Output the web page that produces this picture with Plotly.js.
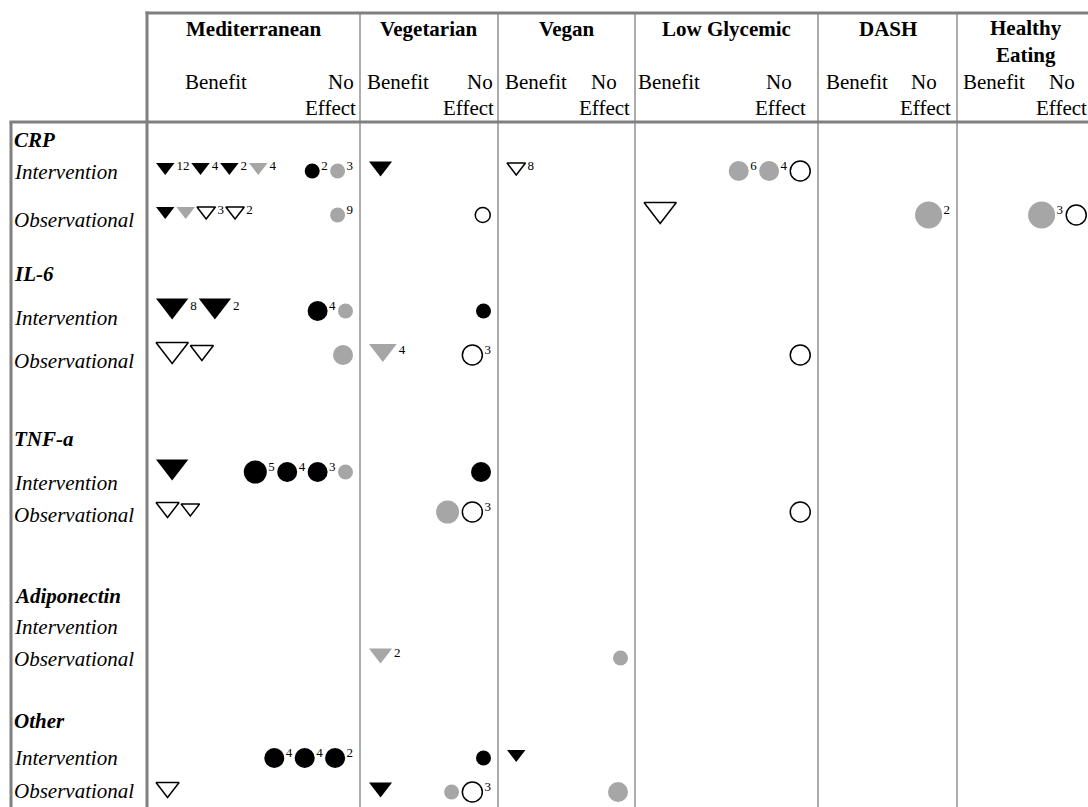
<!DOCTYPE html>
<html>
<head>
<meta charset="utf-8">
<script src="https://cdn.plot.ly/plotly-3.0.1.min.js"></script>
<style>
  html, body { margin: 0; padding: 0; background: #ffffff; }
  #chart { width: 1088px; height: 807px; }
</style>
</head>
<body>
<div id="chart"></div>
<script>
// ---- categories -------------------------------------------------------
const diets    = ['Mediterranean', 'Vegetarian', 'Vegan', 'Low Glycemic', 'DASH', 'Healthy<br>Eating'];
const outcomes = ['CRP', 'IL-6', 'TNF-a', 'Adiponectin', 'Other'];
const designs  = ['Intervention', 'Observational'];
const effects  = ['Benefit', 'No Effect'];

// ---- findings: one entry per symbol ------------------------------------
// diet index, outcome index, design index (0 intervention, 1 observational)
const findDiet    = [0,0,0,0,0,0,1,2,3,3,3, 0,0,0,0,0,1,3,4,5,5, 0,0,0,0,1, 0,0,0,1,1,3, 0,0,0,0,0,1, 0,0,1,1,3, 1,2, 0,0,0,1,2, 0,1,1,1,2];
const findOutcome = [0,0,0,0,0,0,0,0,0,0,0, 0,0,0,0,0,0,0,0,0,0, 1,1,1,1,1, 1,1,1,1,1,1, 2,2,2,2,2,2, 2,2,2,2,2, 3,3, 4,4,4,4,4, 4,4,4,4,4];
const findDesign  = [0,0,0,0,0,0,0,0,0,0,0, 1,1,1,1,1,1,1,1,1,1, 0,0,0,0,0, 1,1,1,1,1,1, 0,0,0,0,0,0, 1,1,1,1,1, 1,1, 0,0,0,0,0, 1,1,1,1,1];
// B = benefit (triangle), N = no effect (circle)
const findEffect  = ['B','B','B','B','N','N','B','B','N','N','N', 'B','B','B','B','N','N','B','N','N','N', 'B','B','N','N','N', 'B','B','N','B','N','N', 'B','N','N','N','N','N', 'B','B','N','N','N', 'B','N', 'N','N','N','N','B', 'B','B','N','N','N'];
// k = black, g = grey, o = open
const findTone    = ['k','k','k','g','k','g','k','o','g','g','o', 'k','g','o','o','g','o','o','g','g','o', 'k','k','k','g','k', 'o','o','g','g','o','o', 'k','k','k','k','g','k', 'o','o','g','o','o', 'g','g', 'k','k','k','k','k', 'o','k','g','o','g'];
// relative weight of the evidence (1 smallest .. 4 largest)
const findWeight  = [1,1,1,1,1,1,2,1,2,2,2, 1,1,1,1,1,1,4,4,4,2, 4,4,2,1,1, 4,2,2,3,2,2, 4,3,2,2,1,2, 2,1,3,2,2, 2,1, 2,2,2,1,1, 2,2,1,2,2];
// number of studies ('' = single study)
const findCount   = ['12','4','2','4','2','3','','8','6','4','', '','','3','2','9','','','2','3','', '8','2','4','','', '','','','4','3','', '','5','4','3','','', '','','','3','', '2','', '4','4','2','','', '','','','3',''];

// ---- table geometry (pixels) -------------------------------------------
const W = 1088, H = 807;
const colEdges = [147, 360, 498, 635, 818, 957, 1094];
const headingY = [140, 274, 439, 596, 721];
const labelY   = [[172, 220], [318, 361], [483, 515], [627, 659], [758, 791]];
const markY    = [[171, 215], [311, 355], [472, 512], [627, 658], [758, 792]];

const FONT = "'Liberation Serif', 'Times New Roman', Times, serif";
const GREY = '#a6a6a6';
const RULE = '#808080';
const TRI_SIZE = {1: 16, 2: 20, 3: 24, 4: 28};
const DOT_SIZE = {1: 15, 2: 20, 3: 23, 4: 27};

// ---- place symbols inside their cells ----------------------------------
const n = findDiet.length;
const px = new Array(n), py = new Array(n), psize = new Array(n), psym = new Array(n);
const pfill = new Array(n), pline = new Array(n), plw = new Array(n);
const tx = [], ty = [], tt = [];

function visualWidth(i) {
  const w = findWeight[i];
  if (findEffect[i] === 'B') return TRI_SIZE[w] * 1.1547;
  return DOT_SIZE[w] + (findTone[i] === 'o' ? 1.5 : 0);
}
function countWidth(i) { return findCount[i].length * 6.4; }

const groups = {};
for (let i = 0; i < n; i++) {
  const key = [findDiet[i], findOutcome[i], findDesign[i], findEffect[i]].join('|');
  (groups[key] = groups[key] || []).push(i);
}

for (const key in groups) {
  const idx = groups[key];
  const d = findDiet[idx[0]], o = findOutcome[idx[0]], s = findDesign[idx[0]];
  const rowY = markY[o][s];
  const left = colEdges[d], right = colEdges[d + 1];
  const centers = {};
  if (findEffect[idx[0]] === 'B') {
    let cur = left + 9;
    idx.forEach(i => {
      const w = visualWidth(i);
      centers[i] = cur + w / 2;
      cur += w + 2;
      if (findCount[i]) {
        tx.push(cur + countWidth(i) / 2); tt.push(findCount[i]); ty.push(i);
        cur += countWidth(i) + 2;
      }
    });
  } else {
    let cur = right - 7;
    idx.slice().reverse().forEach(i => {
      if (findCount[i]) {
        tx.push(cur - countWidth(i) / 2); tt.push(findCount[i]); ty.push(i);
        cur -= countWidth(i) + 1.5;
      }
      const w = visualWidth(i);
      centers[i] = cur - w / 2;
      cur -= w + 2.5;
    });
  }
  idx.forEach(i => {
    px[i] = centers[i];
    const tone = findTone[i];
    pfill[i] = tone === 'k' ? '#000000' : tone === 'g' ? GREY : '#ffffff';
    pline[i] = tone === 'o' ? '#000000' : pfill[i];
    plw[i] = tone === 'o' ? 1.5 : 0;
    if (findEffect[i] === 'B') {
      const size = TRI_SIZE[findWeight[i]];
      psize[i] = size;
      psym[i] = 'triangle-down';
      // triangle-down spans y - r/2 .. y + r; keep its box centred slightly above the row
      py[i] = (rowY - 2) - size / 8;
    } else {
      psize[i] = DOT_SIZE[findWeight[i]];
      psym[i] = 'circle';
      py[i] = rowY;
    }
  });
}

// count labels sit at the upper right of their symbol
const countY = ty.map(i => markY[findOutcome[i]][findDesign[i]] - 4);

const traces = [
  {
    type: 'scatter', mode: 'markers', x: px, y: py, hoverinfo: 'skip', showlegend: false,
    marker: { symbol: psym, size: psize, color: pfill, opacity: 1, line: { color: pline, width: plw } }
  },
  {
    type: 'scatter', mode: 'text', x: tx, y: countY, text: tt, hoverinfo: 'skip', showlegend: false,
    textposition: 'middle center', textfont: { family: FONT, size: 13, color: '#000000' }
  }
];

// ---- ruling of the table --------------------------------------------------
const shapes = [];
function rule(x0, y0, x1, y1, width, color) {
  shapes.push({ type: 'line', xref: 'x', yref: 'y', x0, y0, x1, y1, line: { color, width } });
}
rule(145.5, 13, W, 13, 3, RULE);       // top of header
rule(9.5, 122, W, 122, 3, RULE);       // bottom of header
rule(11, 122, 11, H, 3, RULE);         // left of row labels
rule(147, 11.5, 147, H, 3, RULE);      // right of row labels
colEdges.slice(1, 6).forEach(x => rule(x, 13, x, H, 1.3, RULE));

// ---- text -----------------------------------------------------------------
const annotations = [];
function label(text, x, y, anchor, size) {
  annotations.push({
    text, x, y, xref: 'x', yref: 'y', xanchor: anchor, yanchor: 'middle',
    showarrow: false, borderpad: 0, font: { family: FONT, size: size || 21, color: '#000000' }
  });
}

// diet headings
diets.forEach((d, k) => {
  const cx = (colEdges[k] + colEdges[k + 1]) / 2;
  if (d.indexOf('<br>') >= 0) {
    const parts = d.split('<br>');
    label('<b>' + parts[0] + '</b>', cx, 28, 'center');
    label('<b>' + parts[1] + '</b>', cx, 55, 'center');
  } else {
    label('<b>' + d + '</b>', cx, 29, 'center');
  }
});

// Benefit / No Effect sub-headings
const subBenefit = [[216, 'center'], [366, 'left'], [504, 'left'], [637, 'left'], [825, 'left'], [962, 'left']];
const subNo      = [[355, 'right'], [494, 'right'], [618, 'right'], [793, 'right'], [938, 'right'], [1076, 'right']];
const subEffect  = [357, 495, 631, 807, 952, 1088];
const noWord = effects[1].split(' ');
subBenefit.forEach((b, k) => {
  label(effects[0], b[0], 82, b[1]);
  label(noWord[0], subNo[k][0], 82, subNo[k][1]);
  label(noWord[1], subEffect[k], 108, 'right');
});

// row labels
outcomes.forEach((o, k) => {
  label('<b><i>' + o + '</i></b>', 13, headingY[k], 'left');
  designs.forEach((s, j) => label('<i>' + s + '</i>', 13, labelY[k][j], 'left'));
});

const layout = {
  width: W, height: H,
  margin: { l: 0, r: 0, t: 0, b: 0, pad: 0 },
  paper_bgcolor: '#ffffff', plot_bgcolor: '#ffffff',
  xaxis: { range: [0, W], visible: false, fixedrange: true },
  yaxis: { range: [H, 0], visible: false, fixedrange: true },
  shapes, annotations, showlegend: false
};

Plotly.newPlot('chart', traces, layout, { staticPlot: true, displayModeBar: false });
</script>
</body>
</html>
